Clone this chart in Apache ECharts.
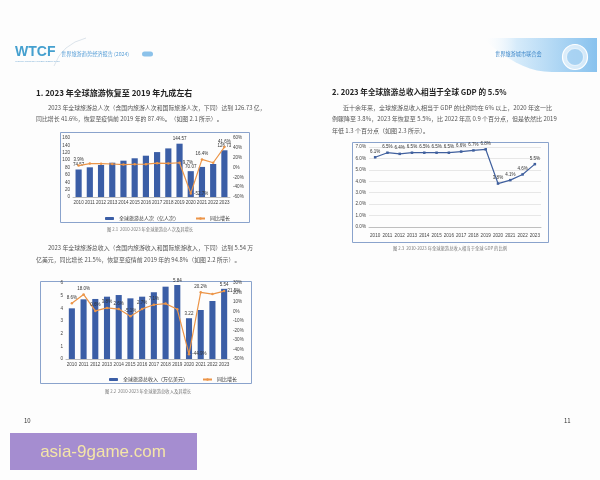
<!DOCTYPE html>
<html>
<head>
<meta charset="utf-8">
<script src="https://cdn.jsdelivr.net/npm/echarts@6/dist/echarts.min.js"></script>
<style>
html, body { margin: 0; padding: 0; background: #fff; }
#main { width: 600px; height: 480px; }
</style>
</head>
<body>
<div id="main"></div>
<script>
var years = ['2010','2011','2012','2013','2014','2015','2016','2017','2018','2019','2020','2021','2022','2023'];

// fig 2.1 total trips (100m) and yoy growth (%)
var tripTotal = [74.57, 80.5, 86.8, 93.0, 98.5, 105.0, 112.0, 121.8, 131.8, 144.57, 70.07, 81.6, 89.5, 126.73];
var tripGrowth = [3.9, 8.0, 7.8, 7.1, 5.9, 6.6, 6.7, 8.8, 8.2, 9.7, -52.7, 16.4, 9.7, 41.6];

// fig 2.2 total income (trillion USD) and yoy growth (%)
var incomeTotal = [4.0, 4.71, 4.74, 4.92, 5.05, 4.79, 4.92, 5.27, 5.71, 5.84, 3.22, 3.87, 4.58, 5.54];
var incomeGrowth = [8.6, 18.0, 0.6, 3.8, 2.6, -5.1, 2.7, 7.1, 8.3, 2.3, -44.9, 20.2, 18.3, 21.5];

// fig 2.3 income as share of world GDP (%)
var gdpShare = [6.1, 6.5, 6.4, 6.5, 6.5, 6.5, 6.5, 6.6, 6.7, 6.8, 3.8, 4.1, 4.6, 5.5];

// which points carry a value label in the scan
var tripBarShown = [0, 9, 10, 13];
var tripLineShown = [0, 9, 10, 11, 13];
var incomeBarShown = [9, 10, 13];
var incomeLineShown = [0, 1, 2, 3, 4, 5, 6, 7, 10, 11, 13];

var CJK = '"Noto Sans CJK SC", sans-serif';
var BLUE = '#3b5ea6';
var ORANGE = '#ec9548';

function withLabels(values, shown, posMap) {
    return values.map(function(v, i) {
        return { value: v, label: { show: shown.indexOf(i) > -1, position: (posMap && posMap[i]) || 'top' } };
    });
}

function pct(p) { return p.value.toFixed(1) + '%'; }

function txt(x, y, s, size, color, extra) {
    extra = extra || {};
    return {
        type: 'text', x: x, y: y, z: 10,
        style: {
            text: s,
            font: (extra.bold ? 'bold ' : '') + size + 'px ' + (extra.family || CJK),
            fill: color,
            textAlign: extra.align || 'left',
            textVerticalAlign: 'middle'
        }
    };
}

function box(x, y, w, h) {
    return { type: 'rect', shape: { x: x + 0.5, y: y + 0.5, width: w, height: h },
             style: { fill: 'none', stroke: '#8aa3cc', lineWidth: 1 } };
}

// outline of the swoosh band in the right header (decoration only)
function bandPoints() {
    var pts = [[482, 38], [597, 38], [597, 72], [552, 72]];
    for (var t = 0.1; t <= 1.0001; t += 0.1) {
        var u = 1 - t;
        pts.push([
            u*u*u*552 + 3*u*u*t*526 + 3*u*t*t*505 + t*t*t*482,
            u*u*u*72 + 3*u*u*t*72 + 3*u*t*t*58 + t*t*t*38
        ]);
    }
    return pts;
}

function catAxis(gi, margin) {
    return {
        type: 'category', gridIndex: gi, data: years,
        axisTick: { show: false },
        axisLine: { lineStyle: { color: '#bfbfbf' } },
        axisLabel: { fontSize: 4.6, color: '#444', margin: margin || 3, interval: 0 }
    };
}

function valAxis(gi, pos, min, max, step, fmt, grid) {
    return {
        type: 'value', gridIndex: gi, position: pos, min: min, max: max, interval: step,
        axisLine: { show: false }, axisTick: { show: false },
        axisLabel: { fontSize: 4.6, color: '#444', margin: 3, formatter: fmt },
        splitLine: { show: !!grid, lineStyle: { color: '#d9d9d9', width: 0.6 } }
    };
}

var smallLabel = { fontSize: 4.5, color: '#333', distance: 2 };

var chart = echarts.init(document.getElementById('main'), null, { renderer: 'canvas' });

var option = {
    backgroundColor: '#fdfdfd',
    animation: false,
    grid: [
        { left: 73, top: 138, width: 157, height: 59 },
        { left: 66, top: 283, width: 164, height: 76 },
        { left: 369, top: 147, width: 172, height: 80 }
    ],
    xAxis: [catAxis(0), catAxis(1), catAxis(2, 6)],
    yAxis: [
        valAxis(0, 'left', 0, 160, 20, '{value}'),
        valAxis(0, 'right', -60, 60, 20, '{value}%'),
        valAxis(1, 'left', 0, 6, 1, '{value}'),
        valAxis(1, 'right', -50, 30, 10, '{value}%'),
        valAxis(2, 'left', 0, 7, 1, function(v) { return v.toFixed(1) + '%'; }, true)
    ],
    legend: [
        { left: 100, top: 211, itemWidth: 9, itemHeight: 3, itemGap: 16,
          textStyle: { fontSize: 5, color: '#333', fontFamily: CJK },
          data: ['全球旅游总人次（亿人次）', '同比增长'] },
        { left: 104, top: 372, itemWidth: 9, itemHeight: 3, itemGap: 14,
          textStyle: { fontSize: 5, color: '#333', fontFamily: CJK },
          data: ['全球旅游总收入（万亿美元）', '同比增长'] }
    ],
    series: [
        {
            name: '全球旅游总人次（亿人次）', type: 'bar', xAxisIndex: 0, yAxisIndex: 0,
            barWidth: '55%', itemStyle: { color: BLUE },
            label: smallLabel,
            data: withLabels(tripTotal, tripBarShown)
        },
        {
            name: '同比增长', type: 'line', xAxisIndex: 0, yAxisIndex: 1,
            symbol: 'circle', symbolSize: 2.5,
            lineStyle: { color: ORANGE, width: 1.2 }, itemStyle: { color: ORANGE },
            label: { fontSize: 4.5, color: '#333', distance: 2, formatter: pct },
            data: withLabels(tripGrowth, tripLineShown, { 9: 'right', 10: 'right' })
        },
        {
            name: '全球旅游总收入（万亿美元）', type: 'bar', xAxisIndex: 1, yAxisIndex: 2,
            barWidth: '52%', itemStyle: { color: BLUE },
            label: smallLabel,
            data: withLabels(incomeTotal, incomeBarShown)
        },
        {
            name: '同比增长', type: 'line', xAxisIndex: 1, yAxisIndex: 3,
            symbol: 'circle', symbolSize: 2.5,
            lineStyle: { color: ORANGE, width: 1.2 }, itemStyle: { color: ORANGE },
            label: { fontSize: 4.5, color: '#333', distance: 2, formatter: pct },
            data: withLabels(incomeGrowth, incomeLineShown, { 10: 'right', 13: 'right' })
        },
        {
            name: '占比', type: 'line', xAxisIndex: 2, yAxisIndex: 4,
            symbol: 'rect', symbolSize: 2.5,
            lineStyle: { color: '#40609e', width: 1.2 }, itemStyle: { color: '#40609e' },
            label: { show: true, fontSize: 4.5, color: '#333', distance: 2, formatter: pct },
            data: gdpShare
        }
    ],
    graphic: [
        // left header
        txt(15, 52, 'WTCF', 14, '#45a0cf', { bold: true, family: '"Liberation Sans", sans-serif' }),
        txt(15, 61, 'WORLD TOURISM CITIES FEDERATION', 2.4, '#7aaed6', { family: '"Liberation Sans", sans-serif' }),
        { type: 'bezierCurve', shape: { x1: 54, y1: 66, x2: 86, y2: 38, cpx1: 62, cpy1: 44 },
          style: { fill: 'none', stroke: '#d3dde6', lineWidth: 0.8 } },
        txt(61, 54, '世界旅游趋势经济报告 (2024)', 5.2, '#5aa0d8'),
        { type: 'rect', shape: { x: 142, y: 51.5, width: 11, height: 5, r: 2.5 }, style: { fill: '#8cc2ea' } },

        // right header band
        { type: 'polygon', shape: { points: bandPoints() },
          style: { fill: new echarts.graphic.LinearGradient(0, 0, 1, 0, [
              { offset: 0, color: 'rgba(255,255,255,0)' },
              { offset: 0.3, color: '#d6ebfa' },
              { offset: 1, color: '#88c2ee' }
          ]) } },
        txt(495, 54, '世界旅游城市联合会', 5.2, '#3c86c8'),
        { type: 'circle', shape: { cx: 575, cy: 57, r: 12.5 },
          style: { fill: 'rgba(255,255,255,0.6)', stroke: '#ffffff', lineWidth: 1.2 } },
        { type: 'circle', shape: { cx: 575, cy: 57, r: 8.5 },
          style: { fill: 'rgba(120,185,235,0.5)', stroke: 'rgba(255,255,255,0.8)', lineWidth: 0.8 } },

        // left page text
        txt(36, 93, '1. 2023 年全球旅游恢复至 2019 年九成左右', 8, '#222', { bold: true }),
        txt(48, 108, '2023 年全球旅游总人次（含国内旅游人次和国际旅游人次，下同）达到 126.73 亿，', 5.9, '#555'),
        txt(36, 119, '同比增长 41.6%，恢复至疫情前 2019 年的 87.4%。（如图 2.1 所示）。', 5.9, '#555'),
        txt(48, 248, '2023 年全球旅游总收入（含国内旅游收入和国际旅游收入，下同）达到 5.54 万', 5.9, '#555'),
        txt(36, 260, '亿美元，同比增长 21.5%，恢复至疫情前 2019 年的 94.8%（如图 2.2 所示）。', 5.9, '#555'),

        // right page text
        txt(332, 92, '2. 2023 年全球旅游总收入相当于全球 GDP 的 5.5%', 7.6, '#222', { bold: true }),
        txt(343, 108, '近十余年来，全球旅游总收入相当于 GDP 的比例均在 6% 以上，2020 年这一比', 6, '#555'),
        txt(332, 119, '例骤降至 3.8%，2023 年恢复至 5.5%，比 2022 年高 0.9 个百分点，但是依然比 2019', 6, '#555'),
        txt(332, 131, '年低 1.3 个百分点（如图 2.3 所示）。', 6, '#555'),

        // chart frames and captions
        box(60, 132, 189, 90),
        box(40, 281, 211, 102),
        box(352, 142, 196, 100),
        txt(150, 229, '图 2.1  2010-2023 年全球旅游总人次及其增长', 4.3, '#777', { align: 'center' }),
        txt(148, 391, '图 2.2  2010-2023 年全球旅游总收入及其增长', 4.3, '#777', { align: 'center' }),
        txt(450, 248, '图 2.3  2010-2023 年全球旅游总收入相当于全球 GDP 的比例', 4.3, '#777', { align: 'center' }),

        // page numbers
        txt(24, 421, '10', 6, '#333'),
        txt(564, 421, '11', 6, '#333'),

        // watermark strip
        { type: 'rect', shape: { x: 10, y: 433, width: 187, height: 37 }, style: { fill: '#a58dd0' }, z: 11 },
        { type: 'text', x: 103, y: 452, z: 12,
          style: { text: 'asia-9game.com', font: '17px "Liberation Sans", sans-serif', fill: '#f4e5a8',
                   textAlign: 'center', textVerticalAlign: 'middle' } }
    ]
};

chart.setOption(option);
</script>
</body>
</html>
